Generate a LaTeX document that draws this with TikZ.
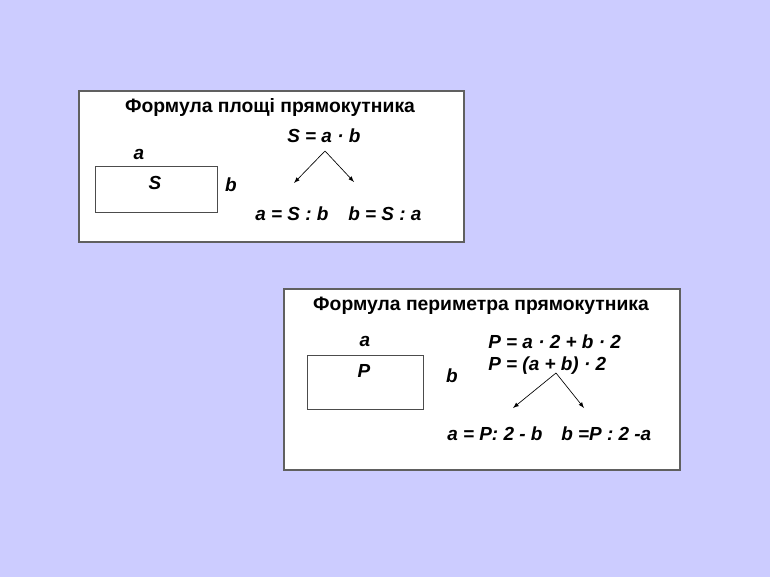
\documentclass[tikz,border=0pt]{standalone}
\usepackage{fontspec}
\setmainfont{Liberation Sans}
\definecolor{bgc}{HTML}{CCCCFF}
\definecolor{framec}{HTML}{606060}
\begin{document}
\begin{tikzpicture}[x=0.75pt,y=-0.75pt,
  frame/.style={draw=framec,line width=0.8pt,fill=white},
  figrect/.style={draw=black!70,line width=0.7pt},
  ttl/.style={font=\fontsize{14.5}{16}\selectfont\bfseries,inner sep=0pt},
  fml/.style={font=\fontsize{14.2}{16}\selectfont\bfseries\itshape,inner sep=0pt},
  arr/.style={-latex,line width=0.5pt}]
\fill[bgc] (0,0) rectangle (770,577);
\useasboundingbox (0,0) rectangle (770,577);
% box 1
\draw[frame] (79,91) rectangle (464,242);
\node[ttl] (t1) at (270,108) {Формула площі прямокутника};
\draw[figrect] (95,166) rectangle (217,212);
\node[fml] (s1) at (155,183) {S};
\node[fml] (a1) at (139,155) {a};
\node[fml] (b1) at (231,185) {b};
\node[fml,anchor=west] (f1) at (287,136) {S = a · b};
\coordinate (o1) at (325,151);
\coordinate (l1) at (294,183);
\coordinate (r1) at (354,182);
\draw[arr] (o1) -- (l1);
\draw[arr] (o1) -- (r1);
\node[fml,anchor=west] (g1) at (255,214) {a = S : b};
\node[fml,anchor=west] (h1) at (348,214) {b = S : a};
% box 2
\draw[frame] (284,289) rectangle (680,470);
\node[ttl] (t2) at (481,306) {Формула периметра прямокутника};
\draw[figrect] (307,355) rectangle (423,409);
\node[fml] (p2) at (364,371) {P};
\node[fml] (a2) at (365,341) {a};
\node[fml] (b2) at (452,376) {b};
\node[fml,anchor=west] (f2) at (488,342) {P = a · 2 + b · 2};
\node[fml,anchor=west] (e2) at (488,366) {P = (a + b) · 2};
\coordinate (o2) at (556,373);
\coordinate (l2) at (513,408);
\coordinate (r2) at (584,408);
\draw[arr] (o2) -- (l2);
\draw[arr] (o2) -- (r2);
\node[fml,anchor=west] (g2) at (447,434) {a = P: 2 - b};
\node[fml,anchor=west] (h2) at (561,434) {b =P : 2 -a};
\end{tikzpicture}
\end{document}
